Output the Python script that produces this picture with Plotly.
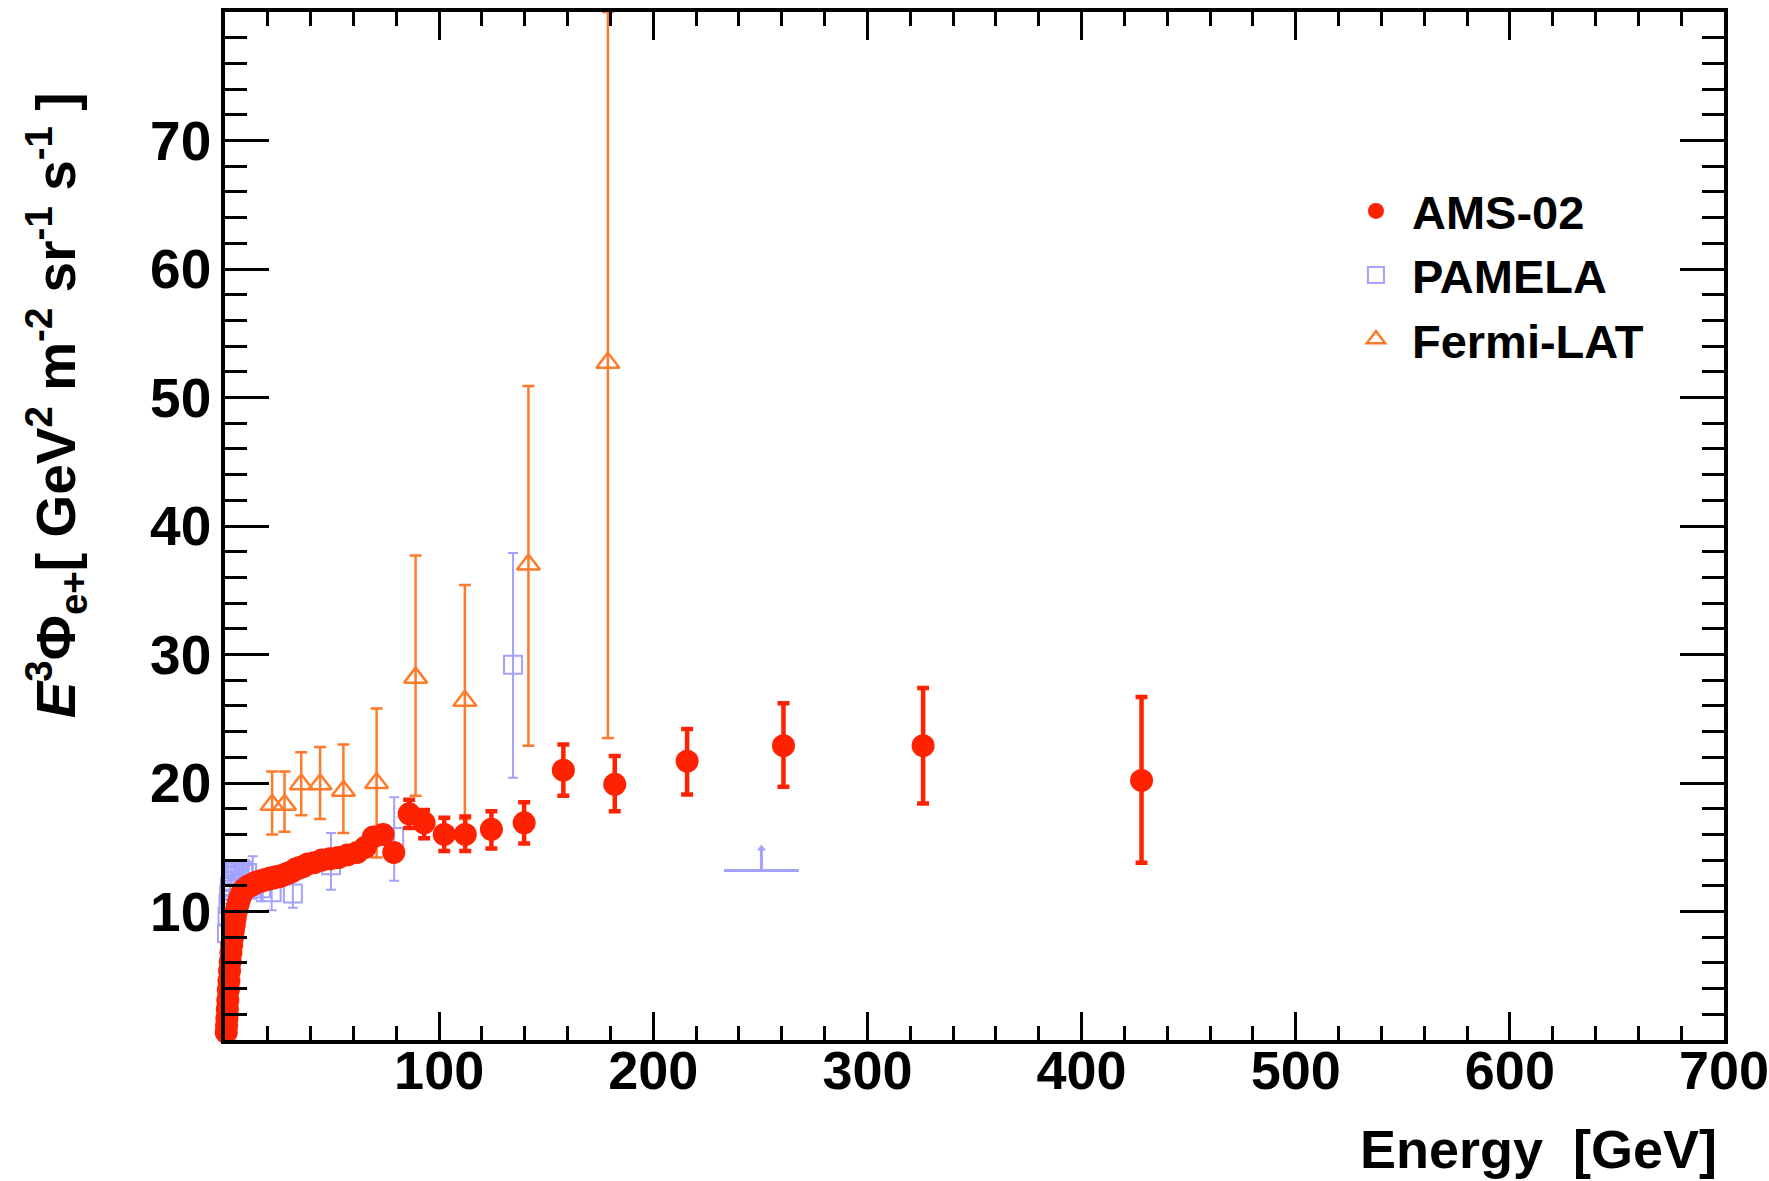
import plotly.graph_objects as go

# ---------------- data ----------------
ams_E = [0.57, 0.73, 0.90, 1.10, 1.33, 1.57, 1.83, 2.12, 2.44, 2.77, 3.12, 3.50, 3.90,
         4.32, 4.77, 5.25, 5.75, 6.28, 6.86, 7.48, 8.15, 8.85, 9.58, 10.34, 11.13, 11.96,
         12.83, 13.73, 14.67, 15.65, 16.66, 17.71, 18.81, 19.95, 21.15, 22.41, 23.76,
         25.16, 26.60, 28.10, 29.66, 31.27, 32.95, 34.68, 36.48, 38.70, 41.70, 45.20,
         48.94, 52.92, 57.17, 61.70, 65.50, 69.30, 73.80, 78.80, 86.0, 93.0, 102.4,
         112.2, 124.4, 139.7, 158.0, 182.0, 215.8, 260.8, 326.0, 428.0]
ams_y = [0.6, 1.1, 1.7, 2.4, 3.1, 3.9, 4.6, 5.4, 6.1, 6.8, 7.4, 8.0, 8.5,
         9.0, 9.5, 10.0, 10.4, 10.7, 11.0, 11.3, 11.5, 11.7, 11.8, 11.9, 12.0, 12.0,
         12.1, 12.2, 12.3, 12.3, 12.4, 12.4, 12.5, 12.5, 12.6, 12.6, 12.7,
         12.7, 12.8, 12.9, 13.0, 13.1, 13.3, 13.4, 13.5, 13.7, 13.8, 14.0,
         14.1, 14.2, 14.4, 14.6, 15.0, 15.8, 16.0, 14.6, 17.6, 16.9, 16.0,
         16.0, 16.4, 16.9, 21.0, 19.9, 21.7, 22.9, 22.9, 20.2]
ams_err_up = [0.05] * 45 + [0.3, 0.3, 0.3, 0.35, 0.35, 0.4, 0.45, 0.5, 0.55, 0.6, 0.6,
                            1.1, 1.0, 1.3, 1.4, 1.4, 1.6, 2.0, 2.2, 2.5, 3.3, 4.5, 6.5]
ams_err_dn = [0.05] * 45 + [0.3, 0.3, 0.3, 0.35, 0.35, 0.4, 0.45, 0.5, 0.55, 0.6, 0.6,
                            1.1, 1.2, 1.3, 1.3, 1.5, 1.6, 2.0, 2.1, 2.6, 3.2, 4.5, 6.4]

pam_E = [0.9, 1.2, 1.64, 1.95, 2.30, 2.75, 3.30, 3.95, 4.75, 5.70, 6.90, 8.40, 10.3, 13.0,
         16.8, 21.8, 31.7, 49.5, 79.0, 134.5]
pam_y = [8.3, 9.6, 10.6, 11.3, 11.9, 12.4, 12.8, 13.1, 13.3, 13.3, 13.3, 13.2, 13.0, 12.0,
         11.8, 11.5, 11.4, 13.6, 15.8, 29.2]
pam_err_up = [0.3, 0.3, 0.3, 0.3, 0.3, 0.3, 0.3, 0.3, 0.3, 0.35, 0.4, 0.5, 0.6, 2.3,
              1.3, 1.2, 1.5, 2.5, 3.1, 8.7]
pam_err_dn = [0.3, 0.3, 0.3, 0.3, 0.3, 0.3, 0.3, 0.3, 0.3, 0.35, 0.4, 0.5, 0.6, 1.0,
              1.0, 1.4, 1.1, 1.9, 3.4, 8.8]

# PAMELA upper limit bin
pam_ul_E = [250.5]
pam_ul_y = [13.2]
pam_ul_halfwidth = [17.5]
pam_ul_arrow = [1.7]

fermi_E = [22.0, 27.8, 35.6, 44.4, 55.3, 70.8, 89.0, 112.0, 141.7, 178.8]
fermi_y = [18.3, 18.3, 19.9, 19.9, 19.4, 20.0, 28.2, 26.4, 37.0, 52.7]
fermi_err_up = [2.6, 2.6, 2.5, 2.9, 3.6, 5.8, 9.5, 9.0, 13.9, 27.3]
fermi_err_dn = [2.3, 2.1, 2.4, 2.7, 3.3, 5.8, 9.2, 9.2, 14.1, 29.2]

x_range = [0, 700]
y_range = [0, 80]
x_ticks = [0, 100, 200, 300, 400, 500, 600, 700]
y_ticks = [0, 10, 20, 30, 40, 50, 60, 70]

RED = "#ff2200"
BLUE = "#a3a3ff"
ORANGE = "#ff7a2a"
FONT = "Liberation Sans"

fig = go.Figure()

fig.add_trace(go.Scatter(
    x=pam_E, y=pam_y, mode="markers", name="PAMELA", cliponaxis=False,
    marker=dict(symbol="square-open", size=18, color=BLUE, line=dict(width=2, color=BLUE)),
    error_y=dict(type="data", symmetric=False, array=pam_err_up, arrayminus=pam_err_dn,
                 color=BLUE, thickness=2, width=5),
    legendrank=2,
))
fig.add_trace(go.Scatter(
    x=pam_ul_E, y=pam_ul_y, mode="markers", showlegend=False,
    marker=dict(size=0.1, color=BLUE, opacity=0),
    error_x=dict(type="data", array=pam_ul_halfwidth, color=BLUE, thickness=3, width=0),
    error_y=dict(type="data", symmetric=False, array=pam_ul_arrow,
                 arrayminus=[0], color=BLUE, thickness=3, width=0),
))
fig.add_trace(go.Scatter(
    x=pam_ul_E, y=[v + a for v, a in zip(pam_ul_y, pam_ul_arrow)], mode="markers",
    showlegend=False,
    marker=dict(symbol="triangle-up", size=8, color=BLUE),
))
fig.add_trace(go.Scatter(
    x=fermi_E, y=fermi_y, mode="markers", name="Fermi-LAT",
    marker=dict(symbol="triangle-up-open", size=20, color=ORANGE, line=dict(width=2.5, color=ORANGE)),
    error_y=dict(type="data", symmetric=False, array=fermi_err_up, arrayminus=fermi_err_dn,
                 color=ORANGE, thickness=2.5, width=6),
    legendrank=3,
))
fig.add_trace(go.Scatter(
    x=ams_E, y=ams_y, mode="markers", name="AMS-02", cliponaxis=False,
    marker=dict(symbol="circle", size=23, color=RED),
    error_y=dict(type="data", symmetric=False, array=ams_err_up, arrayminus=ams_err_dn,
                 color=RED, thickness=4.5, width=6),
    legendrank=1,
))

axis_common = dict(
    showline=True, linecolor="black", linewidth=3.5, mirror="allticks",
    ticks="inside", tickcolor="black", tickwidth=3, showgrid=False, zeroline=False,
    automargin=False, ticklabeloverflow="allow",
)

fig.update_xaxes(
    range=x_range, tickmode="array", tickvals=x_ticks,
    ticktext=["" if v == 0 else str(v) for v in x_ticks],
    ticklen=28, ticklabelstandoff=-20,
    tickfont=dict(family=FONT, size=54, color="black", weight="bold"),
    minor=dict(tickmode="linear", tick0=0, dtick=20, ticks="inside", ticklen=14,
               tickwidth=3, tickcolor="black", showgrid=False),
    **axis_common,
)
fig.update_yaxes(
    range=y_range, tickmode="array", tickvals=y_ticks,
    ticktext=["" if v == 0 else str(v) for v in y_ticks],
    ticklen=44, ticklabelstandoff=-1,
    tickfont=dict(family=FONT, size=55, color="black", weight="bold"),
    minor=dict(tickmode="linear", tick0=0, dtick=2, ticks="inside", ticklen=22,
               tickwidth=3, tickcolor="black", showgrid=False),
    **axis_common,
)

fig.add_annotation(
    xref="paper", yref="paper", x=0.9967, y=-0.106, xanchor="right", yanchor="middle",
    text="Energy  [GeV]", showarrow=False,
    font=dict(family=FONT, size=54, color="black", weight="bold"),
)
fig.add_annotation(
    xref="paper", yref="paper", x=-0.113, y=0.617, xanchor="center", yanchor="middle",
    textangle=-90, showarrow=False,
    text="<i>E</i><sup>3</sup>Φ<sub>e+</sub>[ GeV<sup>2</sup> m<sup>-2</sup> sr<sup>-1</sup> s<sup>-1</sup> ]",
    font=dict(family=FONT, size=55, color="black", weight="bold"),
)

fig.update_layout(
    width=1769, height=1181,
    margin=dict(l=225, r=45, t=12, b=141),
    paper_bgcolor="white", plot_bgcolor="white",
    showlegend=True,
    legend=dict(x=0.7438, y=0.8425, xanchor="left", yanchor="top",
                bgcolor="rgba(0,0,0,0)", borderwidth=0, itemwidth=62,
                font=dict(family=FONT, size=47, color="black", weight="bold"),
                traceorder="normal", itemsizing="trace"),
)

fig.write_html("out.html")
